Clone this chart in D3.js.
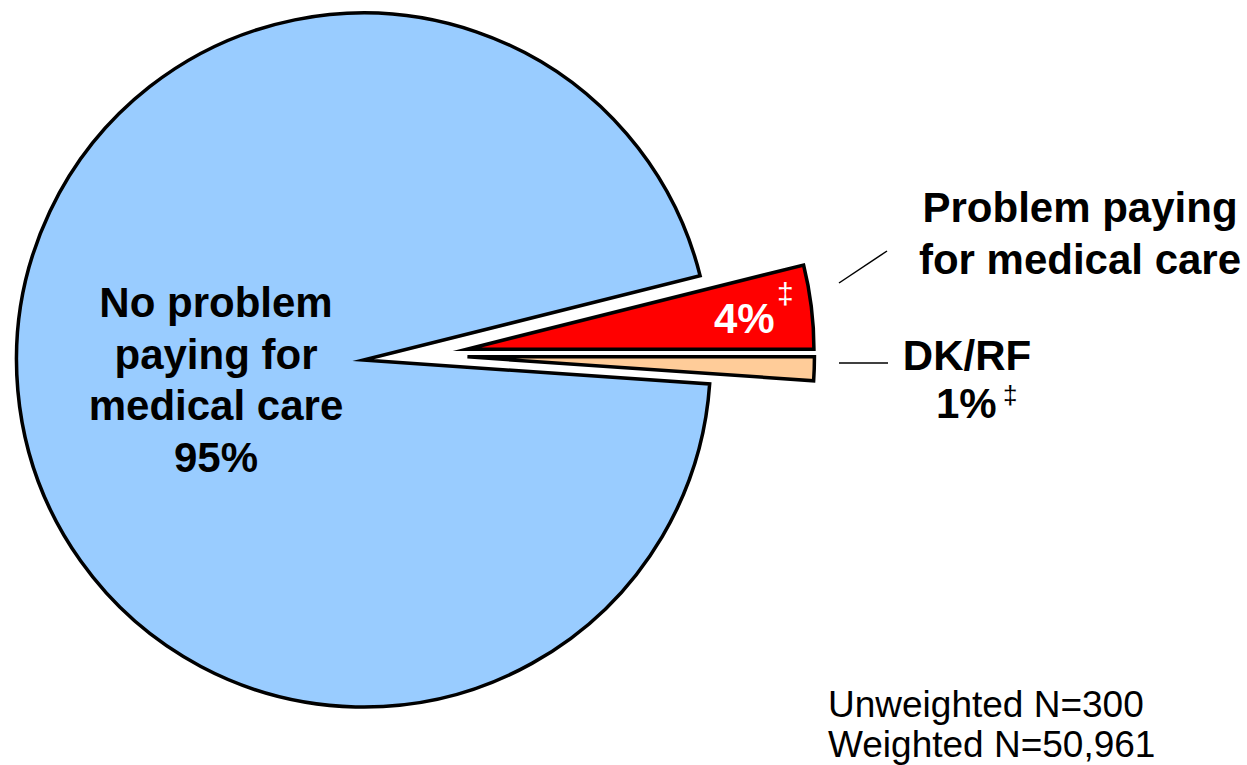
<!DOCTYPE html>
<html>
<head>
<meta charset="utf-8">
<script src="https://cdn.jsdelivr.net/npm/d3@7"></script>
<style>
  html, body { margin: 0; padding: 0; background: #fff; }
  svg { display: block; }
  text { font-family: "Liberation Sans", Arial, sans-serif; }
</style>
</head>
<body>
<svg id="chart" width="1247" height="765"></svg>
<script>
// ---- data ----
const categories = ["Problem paying for medical care", "DK/RF", "No problem paying for medical care"];
const values = [3.9, 1.1, 95.0];
const valueLabels = ["4%", "1%", "95%"];
const colors = ["#FF0000", "#FFCC99", "#99CCFF"];
const exploded = [true, true, false];
const footnotes = ["Unweighted N=300", "Weighted N=50,961"];

// ---- layout ----
const W = 1247, H = 765;
const cx = 363.5, cy = 360, R = 347;
const explodeDist = 104;
const explodeSpread = 0.47; // blend between group bisector and own bisector

const svg = d3.select("#chart");
const total = d3.sum(values);
const start = Math.PI / 2 - 2 * Math.PI * values[0] / total;

const pie = d3.pie().sort(null).value(d => d.v)
  .startAngle(start).endAngle(start + 2 * Math.PI);
const arc = d3.arc().innerRadius(0).outerRadius(R);

const data = categories.map((c, i) => ({ c, v: values[i], color: colors[i], ex: exploded[i] }));
const arcs = pie(data);

const exArcs = arcs.filter(d => d.data.ex);
const groupMid = (d3.min(exArcs, d => d.startAngle) + d3.max(exArcs, d => d.endAngle)) / 2;

const g = svg.append("g").attr("transform", `translate(${cx},${cy})`);
g.selectAll("path.slice")
  .data(arcs)
  .join("path")
  .attr("class", "slice")
  .attr("d", arc)
  .attr("fill", d => d.data.color)
  .attr("stroke", "#000")
  .attr("stroke-width", 3.5)
  .attr("stroke-linejoin", "miter")
  .attr("stroke-miterlimit", 10)
  .attr("transform", d => {
    if (!d.data.ex) return null;
    const own = (d.startAngle + d.endAngle) / 2;
    const a = groupMid + explodeSpread * (own - groupMid);
    return `translate(${explodeDist * Math.sin(a)},${-explodeDist * Math.cos(a)})`;
  });

// ---- labels ----
const FS = 42;

// big slice label
const bigLines = ["No problem", "paying for", "medical care", valueLabels[2]];
svg.append("text")
  .attr("text-anchor", "middle")
  .attr("font-weight", "bold").attr("font-size", FS).attr("fill", "#000")
  .selectAll("tspan").data(bigLines).join("tspan")
  .attr("x", 216).attr("y", (d, i) => 317 + i * 51.5)
  .text(d => d);

// 4% label inside red slice
svg.append("text")
  .attr("x", 714).attr("y", 333)
  .attr("font-weight", "bold").attr("font-size", FS).attr("fill", "#fff")
  .text(valueLabels[0]);
svg.append("text")
  .attr("x", 777).attr("y", 304)
  .attr("font-size", 30).attr("fill", "#fff")
  .text("‡");

// Problem paying label
svg.append("text")
  .attr("text-anchor", "middle")
  .attr("font-weight", "bold").attr("font-size", FS).attr("fill", "#000")
  .selectAll("tspan").data(["Problem paying", "for medical care"]).join("tspan")
  .attr("x", 1080).attr("y", (d, i) => 222 + i * 52)
  .text(d => d);

// DK/RF label
svg.append("text")
  .attr("x", 967).attr("y", 370)
  .attr("text-anchor", "middle")
  .attr("font-weight", "bold").attr("font-size", FS).attr("fill", "#000")
  .text(categories[1]);
svg.append("text")
  .attr("x", 936).attr("y", 418)
  .attr("font-weight", "bold").attr("font-size", FS).attr("fill", "#000")
  .text(valueLabels[1]);
svg.append("text")
  .attr("x", 1003).attr("y", 404)
  .attr("font-size", 26).attr("fill", "#000")
  .text("‡");

// leader lines
svg.append("line").attr("x1", 839).attr("y1", 283).attr("x2", 887).attr("y2", 251)
  .attr("stroke", "#000").attr("stroke-width", 1.5);
svg.append("line").attr("x1", 839).attr("y1", 363).attr("x2", 888).attr("y2", 363)
  .attr("stroke", "#000").attr("stroke-width", 1.5);

// footnotes
svg.append("g").selectAll("text").data(footnotes).join("text")
  .attr("x", 828).attr("y", (d, i) => 717 + i * 40)
  .attr("font-size", 37).attr("fill", "#000")
  .text(d => d);
</script>
</body>
</html>
